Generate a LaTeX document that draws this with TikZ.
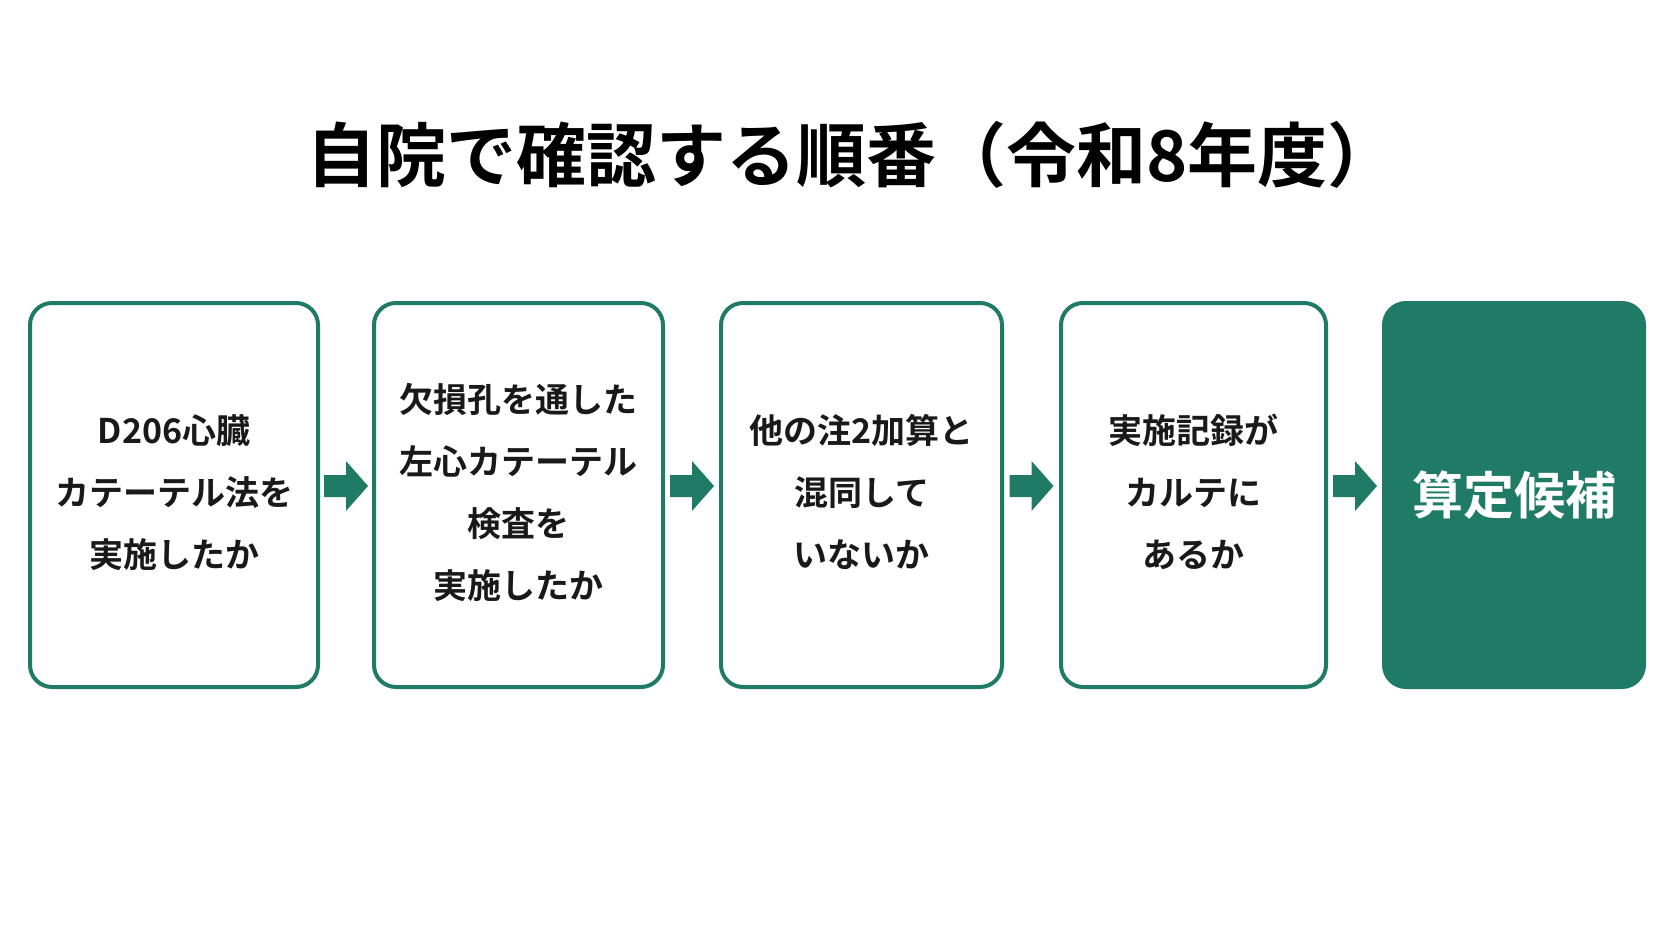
\documentclass[tikz,border=0pt]{standalone}
\usepackage{fontspec}
\setmainfont{Noto Sans CJK JP}[BoldFont={* Bold}]
\usetikzlibrary{calc}
\definecolor{teal1}{HTML}{1F7A66}
\tikzset{
    checkbox/.style={draw=teal1, line width=4pt, rounded corners=22pt, fill=white,
        minimum height=384pt, align=center, font=\fontsize{34}{62}\selectfont\bfseries, text=black!90},
    goalbox/.style={checkbox, fill=teal1, draw=teal1, text=white, font=\fontsize{51}{60}\selectfont\bfseries},
    flow/.style={fill=teal1, draw=none}
}
\begin{document}
\begin{tikzpicture}[x=1pt, y=-1pt]
    \useasboundingbox (0,0) rectangle (1672,941);
    %タイトル
    \node[font=\fontsize{70}{76}\selectfont\bfseries] (title) at (852,155) {自院で確認する順番（令和8年度）};
    %確認ステップ
    \node[checkbox, minimum width=288pt, text depth=8pt] (s1) at (174,495) {D206心臓\\カテーテル法を\\実施したか};
    \node[checkbox, minimum width=289pt, text depth=8pt] (s2) at (518.5,495) {欠損孔を通した\\左心カテーテル\\検査を\\実施したか};
    \node[checkbox, minimum width=281pt, text depth=8pt] (s3) at (861.5,495) {他の注2加算と\\混同して\\いないか};
    \node[checkbox, minimum width=265pt, text depth=8pt] (s4) at (1193.5,495) {実施記録が\\カルテに\\あるか};
    \node[goalbox, minimum width=260pt] (s5) at (1514,495) {算定候補};
    %矢印
    \foreach \a/\b in {s1/s2, s2/s3, s3/s4, s4/s5}
    {
        \coordinate (m) at ($(\a.east)!0.5!(\b.west)+(0,-9)$);
        \fill[flow] ($(m)+(-22,-11)$) -- ($(m)+(0,-11)$) -- ($(m)+(0,-25)$) -- ($(m)+(22,0)$)
            -- ($(m)+(0,25)$) -- ($(m)+(0,11)$) -- ($(m)+(-22,11)$) -- cycle;
    };
\end{tikzpicture}
\end{document}
